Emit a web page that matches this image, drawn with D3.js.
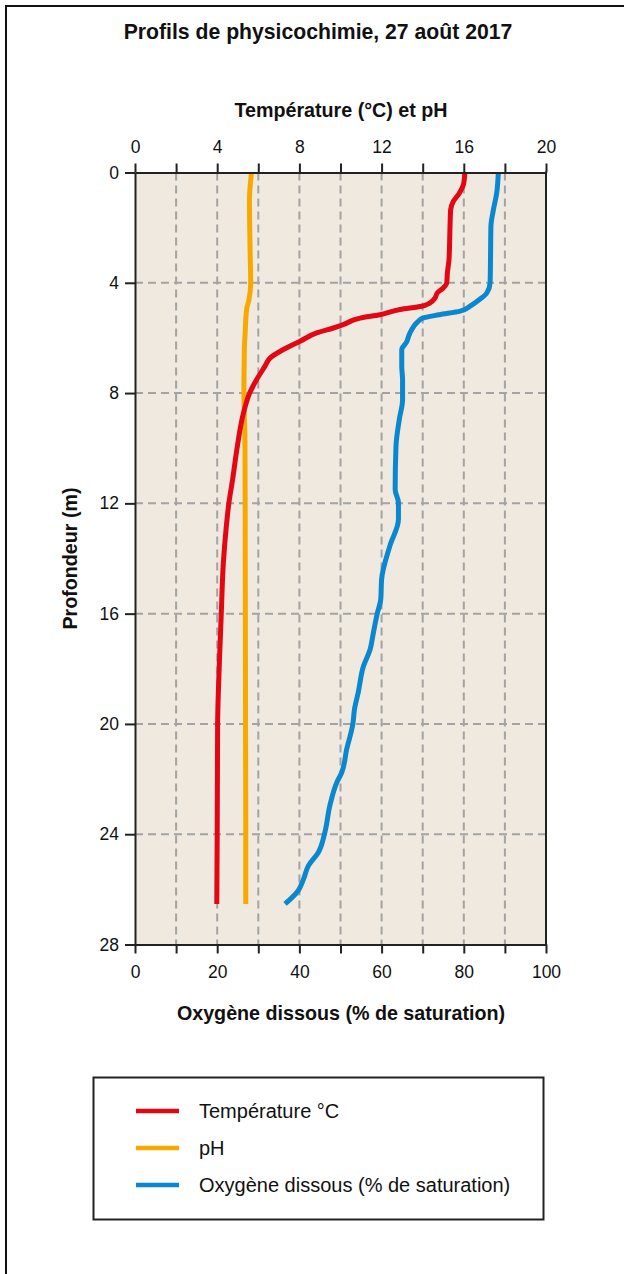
<!DOCTYPE html>
<html>
<head>
<meta charset="utf-8">
<script src="https://cdn.jsdelivr.net/npm/d3@7"></script>
<style>
  html, body { margin: 0; padding: 0; background: #fff; }
  svg { display: block; font-family: "Liberation Sans", Arial, sans-serif; }
</style>
</head>
<body>
<svg id="chart" width="624" height="1274"></svg>
<script>
// ---- Data ----
const title = "Profils de physicochimie, 27 août 2017";
const topAxisTitle = "Température (°C) et pH";
const bottomAxisTitle = "Oxygène dissous (% de saturation)";
const leftAxisTitle = "Profondeur (m)";

const topTicks = [0, 2, 4, 6, 8, 10, 12, 14, 16, 18, 20];
const bottomTicks = [0, 10, 20, 30, 40, 50, 60, 70, 80, 90, 100];
const depthTicks = [0, 4, 8, 12, 16, 20, 24, 28];

// Temperature profile: [depth m, °C]
const temperature = [
  [0, 16.05], [0.38, 16.0], [0.75, 15.78], [1.05, 15.49], [1.35, 15.36], [1.95, 15.33],
  [3.16, 15.28], [3.65, 15.2], [4.0, 15.17], [4.19, 15.0], [4.37, 14.71], [4.55, 14.6],
  [4.73, 14.35], [4.85, 13.95], [4.97, 12.9], [5.16, 11.92], [5.28, 10.95], [5.52, 10.13],
  [5.64, 9.65], [5.82, 8.84], [6.12, 8.03], [6.42, 7.22], [6.73, 6.57], [7.03, 6.32],
  [7.51, 5.92], [8.0, 5.58], [8.72, 5.28], [9.93, 4.98], [11.13, 4.75], [11.98, 4.57],
  [12.95, 4.43], [14.15, 4.3], [15.96, 4.2], [17.9, 4.1], [20.01, 4.02], [23.93, 4.0],
  [26.53, 3.98]
];

// pH profile: [depth m, pH]
const ph = [
  [0, 5.67], [0.99, 5.57], [2.8, 5.6], [4.0, 5.63], [4.6, 5.55], [4.97, 5.43],
  [5.82, 5.36], [6.42, 5.32], [8.0, 5.3], [9.68, 5.35], [12, 5.36], [16, 5.37],
  [20, 5.38], [24, 5.39], [26.53, 5.39]
];

// Dissolved oxygen profile: [depth m, % saturation]
const oxygen = [
  [0, 88.4], [0.75, 88.0], [1.35, 87.2], [1.95, 86.6], [3.16, 86.5], [4.0, 86.4],
  [4.37, 85.6], [4.6, 83.9], [4.85, 81.5], [5.03, 79.1], [5.16, 74.0], [5.28, 70.0],
  [5.4, 68.9], [5.82, 66.9], [6.17, 66.0], [6.42, 64.9], [7.03, 64.9], [7.51, 65.1],
  [8.24, 65.1], [8.96, 64.3], [9.93, 63.5], [11.5, 63.3], [11.98, 64.1], [12.58, 64.1],
  [13.55, 62.0], [14.76, 60.0], [15.48, 59.8], [15.96, 59.0], [16.69, 58.0], [17.3, 57.2],
  [17.9, 55.6], [18.87, 54.3], [19.47, 53.4], [20.01, 53.0], [20.92, 51.5], [21.76, 50.3],
  [22.12, 49.1], [22.97, 47.4], [23.93, 46.2], [24.66, 44.6], [25.14, 42.2], [25.63, 41.0],
  [26.05, 39.7], [26.53, 36.5]
];

const legendItems = [
  { label: "Température °C", color: "#e30613" },
  { label: "pH", color: "#f9a800" },
  { label: "Oxygène dissous (% de saturation)", color: "#0a87cf" }
];

// ---- Layout ----
const svg = d3.select("#chart");
const L = 135, R = 546, T = 172.5, B = 944.5;

const xT = d3.scaleLinear().domain([0, 20]).range([L, R]);
const xO = d3.scaleLinear().domain([0, 100]).range([L, R]);
const y = d3.scaleLinear().domain([0, 28]).range([T, B]);

// outer frame (left + top edges visible, continues beyond the picture)
svg.append("rect")
  .attr("x", 6).attr("y", 6).attr("width", 700).attr("height", 1400)
  .attr("fill", "none").attr("stroke", "#111").attr("stroke-width", 2);

// title
svg.append("text")
  .attr("x", 318).attr("y", 39)
  .attr("text-anchor", "middle")
  .attr("font-size", 21.2).attr("font-weight", "bold").attr("fill", "#111")
  .text(title);

// plot background
svg.append("rect")
  .attr("x", L).attr("y", T).attr("width", R - L).attr("height", B - T)
  .attr("fill", "#efe9df");

// grid lines
const grid = svg.append("g")
  .attr("stroke", "#a3a3a3").attr("stroke-width", 2)
  .attr("stroke-dasharray", "8,5");
grid.selectAll("line.v")
  .data(topTicks.filter(d => d > 0 && d < 20))
  .join("line")
  .attr("x1", d => xT(d)).attr("x2", d => xT(d))
  .attr("y1", T).attr("y2", B);
grid.selectAll("line.h")
  .data(depthTicks.filter(d => d > 0 && d < 28))
  .join("line")
  .attr("class", "h")
  .attr("x1", L).attr("x2", R)
  .attr("y1", d => y(d)).attr("y2", d => y(d));

// data lines
const line = d3.line().curve(d3.curveMonotoneY);
function drawProfile(data, xs, color, w) {
  svg.append("path")
    .datum(data)
    .attr("fill", "none")
    .attr("stroke", color)
    .attr("stroke-width", w)
    .attr("stroke-linejoin", "round")
    .attr("d", line.x(d => xs(d[1])).y(d => y(d[0])));
}
drawProfile(ph, xT, "#f9a800", 5);
drawProfile(oxygen, xO, "#0a87cf", 5);
drawProfile(temperature, xT, "#e30613", 5);

// axes
function styleAxis(g) {
  g.select(".domain").attr("stroke", "#222").attr("stroke-width", 2);
  g.selectAll(".tick line").attr("stroke", "#222").attr("stroke-width", 2);
  g.selectAll(".tick text").attr("fill", "#111").attr("font-size", 17.5)
    .attr("font-family", "'Liberation Sans', Arial, sans-serif");
}

svg.append("g")
  .attr("transform", `translate(0,${T})`)
  .call(d3.axisTop(xT).tickValues(topTicks)
    .tickFormat(d => d % 4 === 0 ? d : "")
    .tickSize(9).tickPadding(10.5).tickSizeOuter(0))
  .call(styleAxis);

svg.append("g")
  .attr("transform", `translate(0,${B})`)
  .call(d3.axisBottom(xO).tickValues(bottomTicks)
    .tickFormat(d => d % 20 === 0 ? d : "")
    .tickSize(9).tickPadding(12).tickSizeOuter(0))
  .call(styleAxis);

svg.append("g")
  .attr("transform", `translate(${L},0)`)
  .call(d3.axisLeft(y).tickValues(depthTicks)
    .tickSize(10).tickPadding(6).tickSizeOuter(0))
  .call(styleAxis);

// right border of plot
svg.append("line")
  .attr("x1", R).attr("x2", R).attr("y1", T - 1).attr("y2", B + 1)
  .attr("stroke", "#222").attr("stroke-width", 2);

// axis titles
svg.append("text")
  .attr("x", 341).attr("y", 117)
  .attr("text-anchor", "middle")
  .attr("font-size", 19.7).attr("font-weight", "bold").attr("fill", "#111")
  .text(topAxisTitle);

svg.append("text")
  .attr("x", 341).attr("y", 1020)
  .attr("text-anchor", "middle")
  .attr("font-size", 19.7).attr("font-weight", "bold").attr("fill", "#111")
  .text(bottomAxisTitle);

svg.append("text")
  .attr("transform", `translate(77,${(T + B) / 2}) rotate(-90)`)
  .attr("text-anchor", "middle")
  .attr("font-size", 19.7).attr("font-weight", "bold").attr("fill", "#111")
  .text(leftAxisTitle);

// legend
const lg = svg.append("g");
lg.append("rect")
  .attr("x", 93.5).attr("y", 1077.5).attr("width", 450).attr("height", 142)
  .attr("fill", "#fff").attr("stroke", "#222").attr("stroke-width", 2);
const items = lg.selectAll("g.item")
  .data(legendItems)
  .join("g")
  .attr("transform", (d, i) => `translate(0,${1111 + i * 37})`);
items.append("line")
  .attr("x1", 136).attr("x2", 179).attr("y1", 0).attr("y2", 0)
  .attr("stroke", d => d.color).attr("stroke-width", 4.5);
items.append("text")
  .attr("x", 199).attr("y", 6.5)
  .attr("font-size", 20).attr("fill", "#111")
  .text(d => d.label);
</script>
</body>
</html>
